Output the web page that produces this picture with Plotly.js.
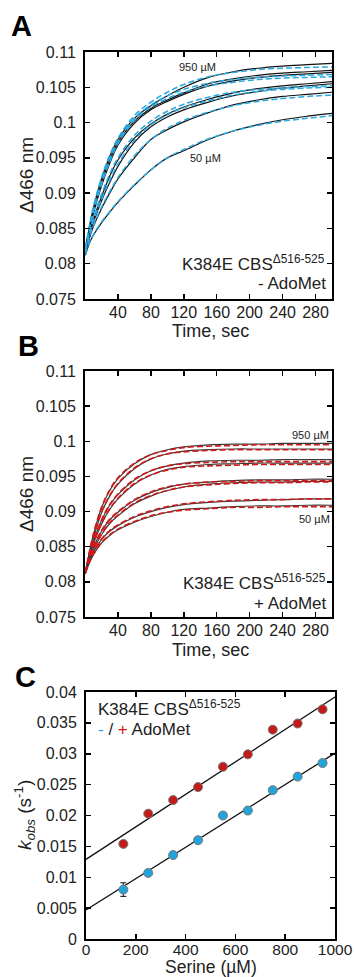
<!DOCTYPE html>
<html>
<head>
<meta charset="utf-8">
<script src="https://cdn.plot.ly/plotly-3.0.1.min.js"></script>
<style>html,body{margin:0;padding:0;background:#fff;}#chart{width:354px;height:977px;}</style>
</head>
<body>
<div id="chart"></div>
<script>
// ---------- data ----------
var timeSec = [0.5, 5, 10, 20, 30, 40, 60, 80, 100, 120, 150, 180, 210, 240, 270, 300];

// Panel A (- AdoMet): recorded traces, top (950 uM) to bottom (50 uM)
var aTrace1 = [0.0820,0.0850,0.0878,0.0920,0.0952,0.0976,0.1006,0.1024,0.1038,0.1050,0.1064,0.1072,0.1077,0.1080,0.1082,0.1084];
var aTrace2 = [0.0820,0.0848,0.0874,0.0915,0.0947,0.0972,0.1002,0.1020,0.1032,0.1042,0.1055,0.1062,0.1067,0.1070,0.1072,0.1074];
var aTrace3 = [0.0820,0.0846,0.0870,0.0910,0.0942,0.0968,0.0999,0.1018,0.1030,0.1040,0.1052,0.1059,0.1064,0.1067,0.1069,0.1071];
var aTrace4 = [0.0818,0.0842,0.0862,0.0895,0.0924,0.0947,0.0978,0.0998,0.1012,0.1022,0.1033,0.1042,0.1048,0.1052,0.1055,0.1058];
var aTrace5 = [0.0818,0.0840,0.0858,0.0889,0.0915,0.0938,0.0972,0.0994,0.1008,0.1018,0.1029,0.1038,0.1044,0.1049,0.1052,0.1055];
var aTrace6 = [0.0815,0.0835,0.0852,0.0878,0.0900,0.0920,0.0950,0.0976,0.0990,0.1001,0.1014,0.1025,0.1032,0.1037,0.1040,0.1043];
var aTrace7 = [0.0812,0.0828,0.0840,0.0858,0.0873,0.0887,0.0911,0.0933,0.0950,0.0960,0.0976,0.0988,0.0997,0.1004,0.1009,0.1013];
// Panel A fitted curves (dashed blue)
var aFit1 = [0.0822,0.0852,0.0880,0.0922,0.0954,0.0978,0.1010,0.1029,0.1043,0.1054,0.1065,0.1071,0.1075,0.1077,0.1078,0.1079];
var aFit2 = [0.0822,0.0850,0.0876,0.0917,0.0949,0.0974,0.1006,0.1025,0.1038,0.1047,0.1056,0.1061,0.1064,0.1066,0.1067,0.1068];
var aFit3 = [0.0822,0.0848,0.0872,0.0912,0.0944,0.0970,0.1003,0.1022,0.1034,0.1043,0.1052,0.1057,0.1061,0.1063,0.1064,0.1065];
var aFit4 = [0.0819,0.0843,0.0864,0.0898,0.0927,0.0950,0.0982,0.1002,0.1016,0.1026,0.1036,0.1043,0.1047,0.1049,0.1051,0.1052];
var aFit5 = [0.0819,0.0841,0.0860,0.0891,0.0918,0.0941,0.0975,0.0997,0.1011,0.1021,0.1031,0.1039,0.1044,0.1047,0.1049,0.1050];
var aFit6 = [0.0816,0.0836,0.0853,0.0880,0.0902,0.0922,0.0953,0.0976,0.0992,0.1003,0.1015,0.1024,0.1030,0.1034,0.1037,0.1039];
var aFit7 = [0.0813,0.0829,0.0841,0.0859,0.0874,0.0888,0.0912,0.0933,0.0950,0.0962,0.0977,0.0988,0.0996,0.1002,0.1006,0.1010];

// Panel B (+ AdoMet): recorded traces
var bTrace1 = [0.0812,0.0840,0.0866,0.0905,0.0930,0.0947,0.0968,0.0981,0.0988,0.0992,0.0995,0.0996,0.0996,0.0997,0.0997,0.0997];
var bTrace2 = [0.0812,0.0838,0.0861,0.0898,0.0922,0.0939,0.0961,0.0975,0.0982,0.0986,0.0988,0.0989,0.0989,0.0989,0.0989,0.0989];
var bTrace3 = [0.0812,0.0836,0.0856,0.0887,0.0909,0.0924,0.0945,0.0958,0.0965,0.0969,0.0972,0.0973,0.0973,0.0974,0.0974,0.0974];
var bTrace4 = [0.0812,0.0834,0.0853,0.0882,0.0903,0.0918,0.0939,0.0952,0.0960,0.0964,0.0967,0.0968,0.0969,0.0969,0.0969,0.0969];
var bTrace5 = [0.0812,0.0832,0.0848,0.0872,0.0888,0.0899,0.0916,0.0927,0.0934,0.0939,0.0942,0.0944,0.0945,0.0945,0.0946,0.0946];
var bTrace6 = [0.0812,0.0830,0.0845,0.0867,0.0883,0.0894,0.0911,0.0922,0.0930,0.0935,0.0939,0.0941,0.0942,0.0942,0.0943,0.0943];
var bTrace7 = [0.0812,0.0828,0.0841,0.0860,0.0872,0.0880,0.0892,0.0900,0.0906,0.0910,0.0913,0.0915,0.0916,0.0917,0.0918,0.0918];
var bTrace8 = [0.0812,0.0826,0.0838,0.0855,0.0866,0.0874,0.0885,0.0893,0.0899,0.0903,0.0905,0.0907,0.0908,0.0908,0.0909,0.0909];
// Panel B fitted curves (dashed red)
var bFit1 = [0.0813,0.0841,0.0867,0.0906,0.0931,0.0948,0.0969,0.0981,0.0987,0.0991,0.0993,0.0994,0.0995,0.0995,0.0995,0.0995];
var bFit2 = [0.0813,0.0839,0.0862,0.0899,0.0923,0.0940,0.0962,0.0975,0.0982,0.0985,0.0987,0.0988,0.0988,0.0988,0.0988,0.0988];
var bFit3 = [0.0813,0.0837,0.0857,0.0888,0.0910,0.0925,0.0946,0.0958,0.0965,0.0968,0.0970,0.0971,0.0971,0.0971,0.0971,0.0971];
var bFit4 = [0.0813,0.0835,0.0854,0.0883,0.0904,0.0919,0.0940,0.0952,0.0959,0.0963,0.0965,0.0966,0.0967,0.0967,0.0967,0.0967];
var bFit5 = [0.0813,0.0833,0.0849,0.0873,0.0889,0.0900,0.0917,0.0928,0.0935,0.0939,0.0942,0.0943,0.0944,0.0944,0.0944,0.0944];
var bFit6 = [0.0813,0.0831,0.0846,0.0868,0.0884,0.0895,0.0912,0.0923,0.0930,0.0935,0.0938,0.0940,0.0941,0.0941,0.0942,0.0942];
var bFit7 = [0.0813,0.0829,0.0842,0.0861,0.0873,0.0881,0.0893,0.0901,0.0907,0.0911,0.0914,0.0916,0.0917,0.0917,0.0918,0.0918];
var bFit8 = [0.0813,0.0827,0.0839,0.0856,0.0867,0.0875,0.0886,0.0894,0.0899,0.0902,0.0904,0.0906,0.0906,0.0907,0.0907,0.0907];

// Panel C: kobs vs serine
var serineUM = [150, 250, 350, 450, 550, 650, 750, 850, 950];
var kobsPlus  = [0.0154, 0.0203, 0.0225, 0.0246, 0.0279, 0.0299, 0.0339, 0.0349, 0.0372];
var kobsMinus = [0.0080, 0.0107, 0.0136, 0.0160, 0.0200, 0.0208, 0.0241, 0.0263, 0.0285];
var kobsMinusErr = [0.0011, 0, 0, 0.0003, 0, 0, 0.0004, 0, 0];
var fitSerine = [0, 1000];
var fitPlus  = [0.0129, 0.0392];
var fitMinus = [0.0047, 0.0301];

// tick labels
var timeTicks = [40, 80, 120, 160, 200, 240, 280];
var absTicks = [0.075, 0.08, 0.085, 0.09, 0.095, 0.1, 0.105, 0.11];
var absTickText = ['0.075','0.08','0.085','0.09','0.095','0.1','0.105','0.11'];
var serTicks = [0, 200, 400, 600, 800, 1000];
var kTicks = [0, 0.005, 0.01, 0.015, 0.02, 0.025, 0.03, 0.035, 0.04];
var kTickText = ['0','0.005','0.01','0.015','0.02','0.025','0.03','0.035','0.04'];

// ---------- build ----------
var W = 354, H = 977;
function px(x){ return x / W; }
function py(y){ return 1 - y / H; }

var traces = [];
var aTraces = [aTrace1,aTrace2,aTrace3,aTrace4,aTrace5,aTrace6,aTrace7];
var aFits = [aFit1,aFit2,aFit3,aFit4,aFit5,aFit6,aFit7];
var bTraces = [bTrace1,bTrace2,bTrace3,bTrace4,bTrace5,bTrace6,bTrace7,bTrace8];
var bFits = [bFit1,bFit2,bFit3,bFit4,bFit5,bFit6,bFit7,bFit8];

aTraces.forEach(function(v){
  traces.push({x: timeSec, y: v, xaxis:'x', yaxis:'y', mode:'lines', line:{color:'#111', width:1.2, shape:'spline'}, hoverinfo:'skip'});
});
aFits.forEach(function(v){
  traces.push({x: timeSec, y: v, xaxis:'x', yaxis:'y', mode:'lines', line:{color:'#2aa8e0', width:1.5, dash:'6px,3px', shape:'spline'}, hoverinfo:'skip'});
});
bTraces.forEach(function(v){
  traces.push({x: timeSec, y: v, xaxis:'x2', yaxis:'y2', mode:'lines', line:{color:'#3a3a3a', width:1.2, shape:'spline'}, hoverinfo:'skip'});
});
bFits.forEach(function(v){
  traces.push({x: timeSec, y: v, xaxis:'x2', yaxis:'y2', mode:'lines', line:{color:'#d01818', width:1.6, dash:'6px,3px', shape:'spline'}, hoverinfo:'skip'});
});
traces.push({x: fitSerine, y: fitPlus, xaxis:'x3', yaxis:'y3', mode:'lines', line:{color:'#111', width:1.3}});
traces.push({x: fitSerine, y: fitMinus, xaxis:'x3', yaxis:'y3', mode:'lines', line:{color:'#111', width:1.3}});
traces.push({x: serineUM, y: kobsPlus, xaxis:'x3', yaxis:'y3', mode:'markers',
  marker:{color:'#c41a1a', size:9, line:{color:'#777', width:1}}});
traces.push({x: serineUM, y: kobsMinus, xaxis:'x3', yaxis:'y3', mode:'markers',
  error_y:{type:'data', array: kobsMinusErr, visible:true, color:'#111', thickness:1, width:3},
  marker:{color:'#22a3dc', size:9, line:{color:'#777', width:1}}});

var font = 'Liberation Sans, Arial, sans-serif';
function axBase(){
  return {showgrid:false, zeroline:false, showline:true, linecolor:'#000', linewidth:2,
    mirror:'allticks', ticks:'inside', ticklen:5, tickwidth:1.5, tickcolor:'#000',
    tickfont:{family:font, size:16, color:'#222'}, fixedrange:true};
}
var xA = Object.assign(axBase(), {domain:[px(85), px(332)], range:[0,300], tickmode:'array', tickvals: timeTicks, anchor:'y', ticklabelstandoff:-2});
var yA = Object.assign(axBase(), {domain:[py(299), py(52)], range:[0.075,0.11], tickmode:'array', tickvals: absTicks, ticktext: absTickText, anchor:'x', ticklabelstandoff:4});
var xB = Object.assign(axBase(), {domain:[px(85), px(332)], range:[0,300], tickmode:'array', tickvals: timeTicks, anchor:'y2', ticklabelstandoff:-2});
var yB = Object.assign(axBase(), {domain:[py(617), py(371)], range:[0.075,0.11], tickmode:'array', tickvals: absTicks, ticktext: absTickText, anchor:'x2', ticklabelstandoff:4});
var xC = Object.assign(axBase(), {domain:[px(86), px(335)], range:[0,1000], tickmode:'array', tickvals: serTicks, anchor:'y3', ticklabelstandoff:-5,
  tickfont:{family:font, size:15.5, color:'#222'}});
var yC = Object.assign(axBase(), {domain:[py(939), py(692)], range:[0,0.04], tickmode:'array', tickvals: kTicks, ticktext: kTickText, anchor:'x3', ticklabelstandoff:4});

function ann(text, x, y, size, opts){
  return Object.assign({text:text, x:px(x), y:py(y), xref:'paper', yref:'paper', showarrow:false,
    font:{family:font, size:size, color:'#222'}, xanchor:'center', yanchor:'middle'}, opts||{});
}
var annotations = [
  ann('<b>A</b>', 21, 26, 29, {font:{family:font, size:29, color:'#000'}}),
  ann('<b>B</b>', 28, 346, 29, {font:{family:font, size:29, color:'#000'}}),
  ann('<b>C</b>', 25, 677, 29, {font:{family:font, size:29, color:'#000'}}),
  ann('\u0394466 nm', 27, 175, 19, {textangle:-90}),
  ann('\u0394466 nm', 27, 494, 19, {textangle:-90}),
  ann('<i>k</i><sub><i>obs</i></sub> (s<sup>-1</sup>)', 24, 815, 19, {textangle:-90}),
  ann('Time, sec', 210, 331, 18),
  ann('Time, sec', 210, 650, 18),
  ann('Serine (\u00b5M)', 211, 978, 17.5, {yanchor:'bottom', borderpad:0}),
  ann('950 \u00b5M', 198, 67, 11),
  ann('50 \u00b5M', 205, 158, 11),
  ann('950 \u00b5M', 310, 435, 11),
  ann('50 \u00b5M', 314, 519, 11),
  ann('K384E CBS<sup>\u0394516-525</sup>', 327, 263, 17, {xanchor:'right'}),
  ann('- AdoMet', 328, 283, 17, {xanchor:'right'}),
  ann('K384E CBS<sup>\u0394516-525</sup>', 328, 582, 17, {xanchor:'right'}),
  ann('+ AdoMet', 329, 603, 17, {xanchor:'right'}),
  ann('K384E CBS<sup>\u0394516-525</sup>', 96, 708, 17, {xanchor:'left'}),
  ann('<span style="color:#22a3dc">-</span> / <span style="color:#d01818">+</span> AdoMet', 96, 729, 17, {xanchor:'left'})
];

var layout = {
  width: W, height: H, margin:{l:0, r:0, t:0, b:0}, showlegend:false,
  paper_bgcolor:'#fff', plot_bgcolor:'#fff',
  xaxis: xA, yaxis: yA, xaxis2: xB, yaxis2: yB, xaxis3: xC, yaxis3: yC,
  annotations: annotations
};
Plotly.newPlot('chart', traces, layout, {staticPlot:true, displayModeBar:false});
</script>
</body>
</html>
